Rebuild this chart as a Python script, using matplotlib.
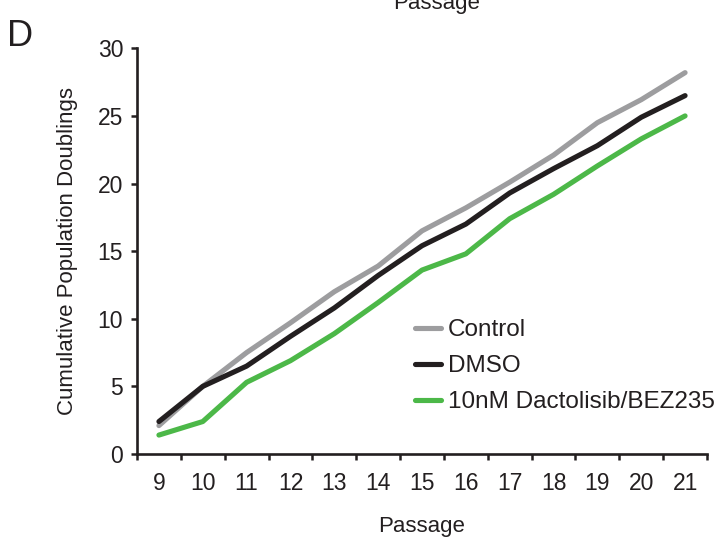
import matplotlib.pyplot as plt
import numpy as np

plt.rcParams['font.family'] = ['Liberation Sans', 'DejaVu Sans']

# cumulative population doublings per passage
passages = ['9', '10', '11', '12', '13', '14', '15', '16', '17', '18', '19', '20', '21']
control = [2.1, 5.0, 7.5, 9.7, 12.0, 13.9, 16.5, 18.2, 20.1, 22.1, 24.5, 26.2, 28.2]
dmso = [2.4, 5.0, 6.5, 8.7, 10.8, 13.2, 15.4, 17.0, 19.3, 21.1, 22.8, 24.9, 26.5]
bez235 = [1.4, 2.4, 5.3, 6.9, 8.9, 11.2, 13.6, 14.8, 17.4, 19.2, 21.3, 23.3, 25.0]

series = [
	('Control', control, '#9d9d9f'),
	('DMSO', dmso, '#231f20'),
	('10nM Dactolisib/BEZ235', bez235, '#4cb848'),
]

ink = '#231f20'

fig = plt.figure(figsize=(7.2, 5.38), dpi=100)
ax = fig.add_axes([137 / 720, 84 / 538, 570 / 720, 405.7 / 538])

x = np.arange(len(passages))
for name, values, color in series:
	ax.plot(x, values, color=color, lw=3.7, solid_capstyle='round',
			solid_joinstyle='round', label=name)

ax.set_xlim(-0.5, len(passages) - 0.5)
ax.set_ylim(0, 30)
ax.set_yticks(np.arange(0, 31, 5))

# category axis: ticks on the boundaries, labels in the middle
ax.set_xticks(np.arange(-0.5, len(passages), 1.0))
ax.set_xticklabels([])
ax.set_xticks(x, minor=True)
ax.set_xticklabels(passages, minor=True)
ax.tick_params(axis='x', which='minor', length=0, pad=13, labelsize=16.5, colors=ink)
ax.tick_params(axis='x', which='major', length=4, width=1.8, direction='out', color=ink)
ax.tick_params(axis='y', length=4, width=1.8, direction='out', labelsize=16.5,
			   pad=6, color=ink, labelcolor=ink)

for side in ('top', 'right'):
	ax.spines[side].set_visible(False)
for side in ('left', 'bottom'):
	ax.spines[side].set_linewidth(1.9)
	ax.spines[side].set_color(ink)

ax.set_xlabel('Passage', fontsize=16, color=ink, labelpad=15)
ax.set_ylabel('Cumulative Population Doublings', fontsize=16, color=ink, labelpad=14)

ax.legend(loc='upper left', bbox_to_anchor=(415 / 720, 1 - 319 / 538),
		  bbox_transform=fig.transFigure, frameon=False, fontsize=17.5,
		  handlelength=1.05, handletextpad=0.3, labelspacing=0.58, borderpad=0,
		  borderaxespad=0, labelcolor=ink)

fig.text(7 / 720, 1 - 46 / 538, 'D', fontsize=26, color=ink, va='baseline')
fig.text(437 / 720, 1 - 9 / 538, 'Passage', fontsize=16, color=ink,
		 ha='center', va='baseline')

fig.savefig('out.png', dpi=100)
